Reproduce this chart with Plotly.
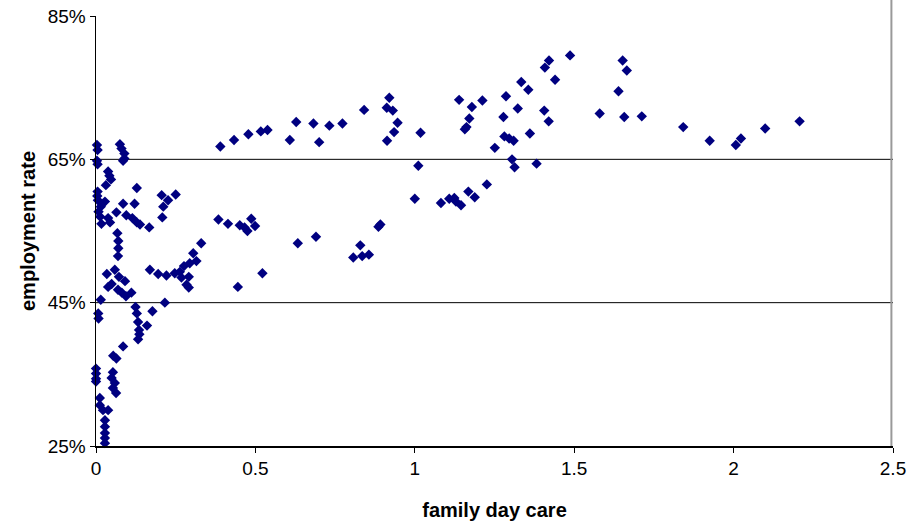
import plotly.graph_objects as go

# family day care (x) and employment rate in % (y)
x_right = [0.390, 0.433, 0.478, 0.517, 0.538, 0.628, 0.608, 0.682, 0.700, 0.732,
           0.773, 0.841, 0.912, 0.931, 0.946, 0.935, 0.913, 0.920, 1.018, 1.139,
           1.179, 1.212, 1.171, 1.162, 1.157, 1.286, 1.323, 1.278, 1.334, 1.356,
           1.408, 1.421, 1.487, 1.440, 1.406, 1.420, 1.361, 1.281, 1.296, 1.310,
           1.251, 1.652, 1.665, 1.639, 1.580, 1.657, 1.712, 1.842, 1.925, 2.007,
           2.023, 2.099, 2.207]
y_right = [66.8, 67.7, 68.5, 68.9, 69.1, 70.2, 67.7, 70.0, 67.4, 69.7,
           70.0, 71.9, 72.2, 71.8, 70.1, 68.8, 67.6, 73.6, 68.7, 73.3,
           72.3, 73.2, 70.7, 69.5, 69.2, 73.8, 72.1, 70.9, 75.8, 74.7,
           77.8, 78.8, 79.5, 76.1, 71.8, 70.3, 68.6, 68.2, 67.9, 67.6,
           66.6, 78.8, 77.4, 74.5, 71.4, 70.9, 71.0, 69.5, 67.6, 67.0,
           67.9, 69.3, 70.3]

x_lower = [1.011, 1.305, 1.313, 1.382, 1.226, 1.168, 1.188, 1.000, 1.082, 1.108,
           1.124, 1.129, 1.145, 0.892, 0.886, 0.856, 0.829, 0.807, 0.835, 0.633,
           0.690, 0.522, 0.445, 0.384, 0.414, 0.451, 0.466, 0.475, 0.487, 0.499]
y_lower = [64.1, 65.0, 63.9, 64.4, 61.5, 60.5, 59.7, 59.5, 58.9, 59.5,
           59.6, 59.1, 58.6, 55.9, 55.6, 51.7, 53.0, 51.3, 51.5, 53.3,
           54.2, 49.1, 47.2, 56.6, 56.0, 55.8, 55.5, 55.0, 56.7, 55.7]

x_mid = [0.206, 0.250, 0.226, 0.211, 0.208, 0.167, 0.138, 0.128,
         0.169, 0.195, 0.221, 0.247, 0.263, 0.268, 0.276, 0.294, 0.305, 0.315,
         0.330, 0.291, 0.284, 0.291]
y_mid = [60.0, 60.1, 59.3, 58.4, 56.9, 55.5, 55.9, 61.0,
         49.6, 49.0, 48.8, 49.1, 49.3, 48.5, 50.1, 50.5, 51.9, 50.8,
         53.3, 48.6, 47.5, 47.1]

x_left = [0.003, 0.005, 0.003, 0.005, 0.005, 0.004, 0.006, 0.028, 0.015, 0.008,
          0.013, 0.017, 0.015, 0.007, 0.008, 0.000, 0.000, 0.000, 0.000, 0.012,
          0.012, 0.022, 0.038, 0.028, 0.028, 0.028, 0.028, 0.028,
          0.075, 0.080, 0.089, 0.089, 0.085, 0.038, 0.042, 0.047, 0.031, 0.085,
          0.121, 0.038, 0.044, 0.064, 0.095, 0.114, 0.128, 0.067, 0.070, 0.070,
          0.069, 0.034, 0.059, 0.072, 0.091, 0.049, 0.038, 0.069, 0.081, 0.094,
          0.111, 0.124, 0.128, 0.177, 0.132, 0.160, 0.135, 0.136, 0.132, 0.216,
          0.085, 0.054, 0.064, 0.053, 0.049, 0.059, 0.053, 0.063]
y_left = [67.0, 66.3, 64.8, 64.3, 60.5, 59.9, 59.3, 59.1, 58.4, 57.7,
          57.0, 56.0, 45.4, 43.5, 42.8, 35.8, 35.1, 34.4, 34.0, 31.7,
          30.7, 30.0, 30.0, 28.6, 27.7, 26.8, 26.1, 25.4,
          67.1, 66.5, 65.8, 65.1, 64.8, 63.3, 62.7, 62.2, 61.4, 58.8,
          58.8, 56.8, 56.2, 57.6, 57.2, 56.8, 56.2, 54.7, 53.6, 52.6,
          51.5, 49.0, 49.6, 48.6, 48.0, 47.6, 47.2, 46.8, 46.4, 45.9,
          46.4, 44.4, 43.5, 43.8, 42.3, 41.8, 41.2, 40.6, 39.9, 45.0,
          38.9, 37.6, 37.2, 35.3, 34.5, 33.8, 33.1, 32.4]

x_vals = x_left + x_mid + x_lower + x_right
y_vals = [v / 100 for v in (y_left + y_mid + y_lower + y_right)]

x_ticks = [0, 0.5, 1, 1.5, 2, 2.5]
x_tick_labels = ["0", "0.5", "1", "1.5", "2", "2.5"]
y_ticks = [0.25, 0.45, 0.65, 0.85]
y_tick_labels = ["25%", "45%", "65%", "85%"]
grid_levels = [0.45, 0.65]

fig = go.Figure()
fig.add_trace(go.Scatter(
    x=x_vals, y=y_vals, mode="markers",
    marker=dict(symbol="diamond", size=8, color="#000080",
                line=dict(width=0)),
    showlegend=False, cliponaxis=False, hoverinfo="skip",
))

for g in grid_levels:
    fig.add_shape(type="line", xref="paper", x0=0, x1=1, yref="y", y0=g, y1=g,
                  line=dict(color="black", width=1), layer="below")

fig.add_shape(type="line", xref="paper", x0=0.998, x1=0.998, yref="paper",
              y0=0, y1=1.04, line=dict(color="#999999", width=2))

font_family = "Liberation Sans, Arial, sans-serif"
fig.update_layout(
    width=912, height=529,
    margin=dict(l=96, r=19, t=16, b=83),
    plot_bgcolor="white", paper_bgcolor="white",
    font=dict(family=font_family, size=19, color="black"),
    xaxis=dict(range=[0, 2.5], tickvals=x_ticks, ticktext=x_tick_labels,
               showgrid=False, zeroline=False, showline=True, automargin=False,
               linecolor="black", linewidth=1.5, ticks="outside",
               ticklen=5, tickcolor="black", tickfont=dict(size=19),
               ticklabeloverflow="allow",
               title=dict(text="<b>family day care</b>", standoff=24,
                          font=dict(size=20))),
    yaxis=dict(range=[0.25, 0.85], tickvals=y_ticks, ticktext=y_tick_labels,
               showgrid=False, zeroline=False, showline=True, automargin=False,
               linecolor="black", linewidth=1.5, ticks="outside",
               ticklen=5, tickcolor="black", tickfont=dict(size=19),
               ticklabeloverflow="allow",
               title=dict(text="<b>employment rate</b>", standoff=6,
                          font=dict(size=20))),
)

fig.write_html(
    "out.html",
    config={"displayModeBar": False, "staticPlot": True},
    post_script="document.body.style.margin='0';document.body.style.overflow='hidden';",
)
